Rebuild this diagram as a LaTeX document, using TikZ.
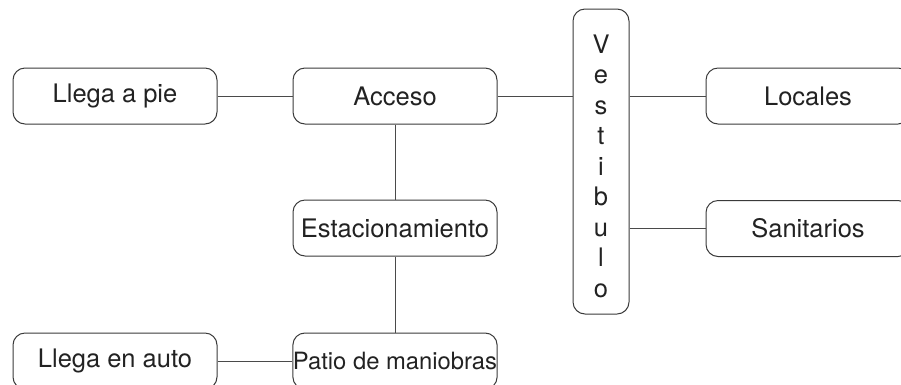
\documentclass[tikz,border=0pt]{standalone}
\usepackage{fontspec}
\setmainfont{TeX Gyre Heros}
\definecolor{edge}{HTML}{3A3A3A}
\definecolor{wire}{HTML}{4A4A4A}
\definecolor{ink}{HTML}{222222}
\begin{document}
\begin{tikzpicture}[x=1pt,y=-1pt,
  box/.style={draw=edge, line width=1pt, rounded corners=12pt, minimum width=204pt, minimum height=56pt, inner sep=0pt, text=ink, font=\fontsize{25.5}{30}\selectfont},
  conn/.style={draw=wire, line width=1pt}]
\useasboundingbox (0,0) rectangle (901,384);
\node[box] (pie) at (115,96) {Llega a pie};
\node[box] (acceso) at (395,96) {Acceso};
\node[box, minimum width=56pt, minimum height=305pt] (vest) at (601,161.5) {};
\node[inner sep=0pt, align=center, text=ink, font=\fontsize{25.5}{30.5}\selectfont] (vestlbl) at (601,166) {V\\e\\s\\t\\i\\b\\u\\l\\o};
\node[box] (locales) at (808,96) {Locales};
\node[box] (sanit) at (808,228.5) {Sanitarios};
\node[box] (estac) at (395,228) {Estacionamiento};
\node[box, font=\fontsize{23.8}{28}\selectfont] (patio) at (395,361) {Patio de maniobras};
\node[box] (auto) at (115,361) {Llega en auto};
\draw[conn] (pie.east) -- (acceso.west);
\draw[conn] (acceso.east) -- (acceso.east -| vest.west);
\draw[conn] (vest.east |- locales.west) -- (locales.west);
\draw[conn] (vest.east |- sanit.west) -- (sanit.west);
\draw[conn] (acceso.south) -- (estac.north);
\draw[conn] (estac.south) -- (patio.north);
\draw[conn] (auto.east) -- (patio.west);
\end{tikzpicture}
\end{document}
